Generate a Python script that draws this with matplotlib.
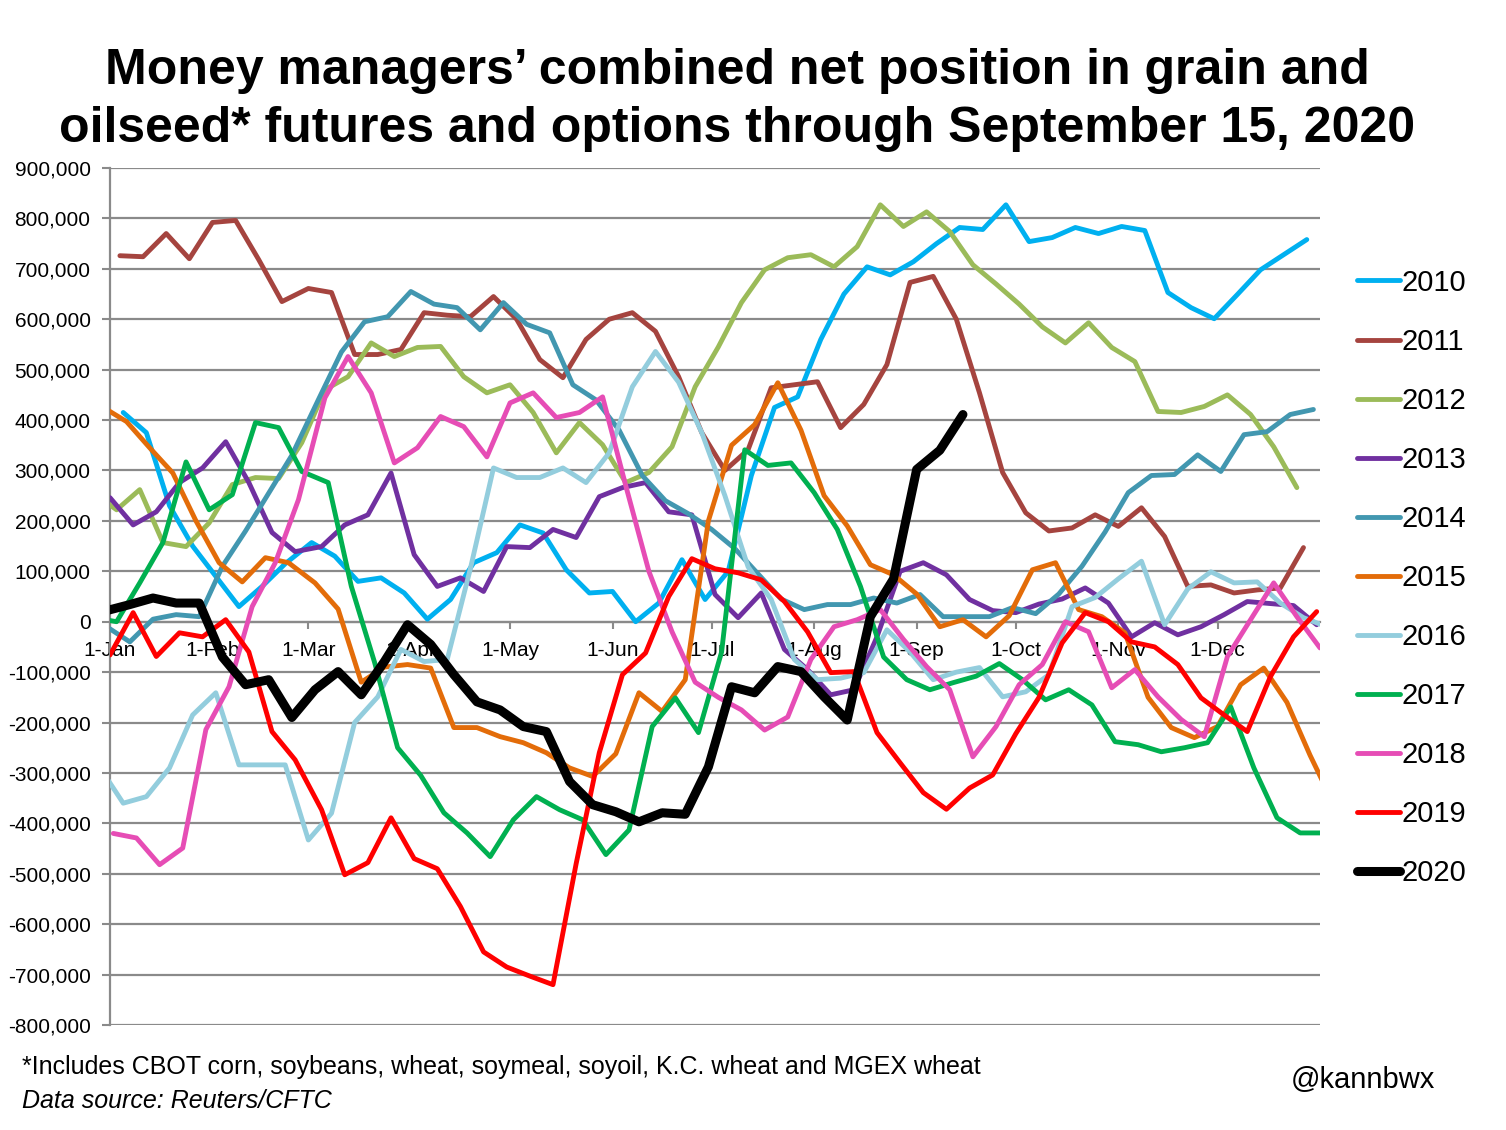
import matplotlib
matplotlib.use("Agg")
import matplotlib.pyplot as plt
from matplotlib.ticker import FuncFormatter
import pandas as pd

plt.rcParams['font.family'] = ['Liberation Sans', 'DejaVu Sans']

# ---- data (thousands of contracts), weekly Tuesday readings ----
years = [2010, 2011, 2012, 2013, 2014, 2015, 2016, 2017, 2018, 2019, 2020]
start_dates = ['2010-01-05', '2011-01-04', '2011-12-27', '2013-01-01', '2013-12-31',
               '2014-12-30', '2015-12-29', '2016-12-27', '2018-01-02', '2019-01-01',
               '2019-12-31']
colors = ['#00B0F0', '#A5443F', '#9BBB59', '#7030A0', '#4297B0', '#E36C09',
          '#93CDDD', '#00B050', '#E64DB5', '#FF0000', '#000000']

v2010 = [415, 375, 230, 150, 90, 30, 70, 115, 157, 130, 80, 87, 57, 5, 44, 117, 137, 192,
         176, 103, 57, 60, 0, 37, 123, 44, 100, 290, 425, 446, 560, 650, 704, 688, 714,
         750, 782, 778, 827, 754, 762, 782, 770, 784, 776, 653, 623, 601, 649, 698, 728, 758]
v2011 = [726, 724, 770, 720, 792, 796, 718, 635, 661, 653, 530, 530, 540, 613, 608, 605,
         645, 600, 520, 484, 560, 600, 613, 576, 486, 375, 300, 341, 464, 470, 476, 385,
         431, 510, 673, 685, 600, 454, 296, 216, 180, 186, 212, 189, 226, 169, 70, 73, 57,
         63, 67, 147]
v2012 = [255, 222, 262, 157, 149, 196, 272, 286, 284, 355, 460, 486, 553, 526, 544, 546,
         486, 454, 470, 415, 335, 395, 351, 276, 296, 347, 466, 545, 633, 698, 722, 728,
         704, 744, 827, 784, 813, 774, 708, 670, 630, 585, 553, 593, 544, 516, 417, 415,
         427, 450, 411, 347, 266]
v2013 = [246, 192, 218, 276, 305, 357, 276, 177, 139, 149, 192, 212, 295, 133, 70, 87, 60,
         149, 147, 183, 167, 248, 266, 276, 218, 212, 54, 8, 57, -55, -95, -145, -135, -30,
         100, 117, 93, 44, 22, 18, 35, 45, 67, 37, -30, -2, -26, -10, 14, 40, 36, 32, -6]
v2014 = [-10, -40, 5, 14, 10, 110, 180, 255, 330, 440, 535, 595, 605, 655, 630, 623, 579,
         633, 590, 573, 470, 440, 380, 290, 240, 214, 183, 145, 95, 45, 24, 34, 34, 47, 37,
         54, 10, 10, 10, 28, 16, 55, 110, 178, 256, 290, 292, 331, 298, 371, 377, 411, 421]
v2015 = [425, 397, 345, 295, 200, 117, 79, 127, 117, 77, 25, -120, -90, -85, -92, -210,
         -210, -228, -240, -260, -290, -307, -262, -141, -178, -115, 200, 350, 391, 474,
         380, 250, 190, 113, 93, 55, -10, 4, -30, 12, 103, 117, 24, 10, -22, -150, -210,
         -230, -208, -125, -92, -160, -265, -360]
v2016 = [-290, -360, -347, -290, -185, -141, -284, -284, -284, -433, -380, -200, -149, -55,
         -79, -75, 105, 305, 286, 286, 305, 276, 335, 466, 536, 475, 375, 250, 109, 44,
         -75, -115, -112, -101, -16, -60, -115, -100, -91, -149, -139, -105, 30, 48, 85,
         120, -6, 65, 99, 77, 79, 37, 8, -10]
v2017 = [8, 0, 77, 157, 317, 222, 252, 395, 385, 298, 276, 70, -80, -250, -305, -379, -419,
         -466, -393, -347, -373, -393, -462, -413, -208, -151, -220, -60, 341, 310, 315,
         256, 183, 70, -70, -115, -135, -121, -108, -83, -115, -155, -135, -165, -238,
         -244, -258, -250, -240, -169, -290, -389, -419, -419]
v2018 = [-420, -429, -482, -449, -214, -129, 30, 117, 242, 444, 526, 454, 315, 345, 407,
         387, 327, 434, 454, 405, 415, 446, 270, 100, -20, -120, -150, -175, -215, -189,
         -75, -10, 4, 24, -35, -89, -135, -268, -208, -125, -85, 0, -20, -131, -95, -149,
         -194, -228, -69, 4, 77, 10, -52]
v2019 = [-66, 18, -69, -22, -30, 4, -60, -218, -274, -373, -502, -478, -389, -470, -490,
         -565, -655, -685, -703, -720, -480, -260, -105, -62, 50, 125, 105, 97, 83, 40,
         -20, -101, -99, -220, -280, -339, -372, -330, -304, -222, -150, -42, 18, 0, -40,
         -50, -85, -151, -185, -218, -109, -30, 20]
v2020 = [22, 34, 47, 37, 37, -70, -125, -115, -190, -135, -99, -145, -79, -6, -45, -105,
         -159, -175, -208, -218, -317, -363, -377, -397, -379, -382, -288, -129, -141, -89,
         -99, -149, -195, 10, 85, 302, 340, 411]
series = [v2010, v2011, v2012, v2013, v2014, v2015, v2016, v2017, v2018, v2019, v2020]

yticks = list(range(-800000, 900001, 100000))
month_labels = ['1-Jan', '1-Feb', '1-Mar', '1-Apr', '1-May', '1-Jun', '1-Jul', '1-Aug',
                '1-Sep', '1-Oct', '1-Nov', '1-Dec']

title = "Money managers\u2019 combined net position in grain and\noilseed* futures and options through September 15, 2020"
note1 = "*Includes CBOT corn, soybeans, wheat, soymeal, soyoil, K.C. wheat and MGEX wheat"
note2 = "Data source: Reuters/CFTC"
handle = "@kannbwx"

W, H = 1506, 1130
fig = plt.figure(figsize=(W / 100, H / 100), dpi=100)
ax = fig.add_axes([110 / W, 1 - 1025 / H, (1320 - 110) / W, (1025 - 168) / H])

for yr, sd, vals, col in zip(years, start_dates, series, colors):
    dates = pd.date_range(sd, periods=len(vals), freq='7D')
    mapped = [d + pd.DateOffset(years=2020 - yr) for d in dates]
    lw = 6.5 if yr == 2020 else 3.5
    ax.plot(mapped, [v * 1000 for v in vals], color=col, lw=lw, label=str(yr),
            solid_joinstyle='round', solid_capstyle='round', clip_on=True,
            zorder=3 + (10 if yr == 2020 else 0))

ax.set_xlim(pd.Timestamp('2020-01-01'), pd.Timestamp('2021-01-01'))
ax.set_ylim(-800000, 900000)
ax.set_yticks(yticks)
ax.yaxis.set_major_formatter(FuncFormatter(lambda v, p: f"{v:,.0f}"))
ax.grid(axis='y', color='#8A8A8A', lw=1.6, zorder=1)
ax.set_axisbelow(True)

ax.set_xticks([pd.Timestamp(f'2020-{m:02d}-01') for m in range(1, 13)])
ax.set_xticklabels(month_labels)

for s in ['top', 'right']:
    ax.spines[s].set_visible(False)
ax.spines['bottom'].set_position(('data', 0))
ax.spines['bottom'].set_color('#8A8A8A')
ax.spines['bottom'].set_linewidth(1.6)
ax.spines['left'].set_color('#8A8A8A')
ax.spines['left'].set_linewidth(1.6)
ax.tick_params(axis='x', colors='#8A8A8A', length=5, width=1.5, labelcolor='black',
               labelsize=15, pad=9)
ax.tick_params(axis='y', colors='#8A8A8A', length=6, width=1.5, labelcolor='black',
               labelsize=15, pad=8)

fig.text(737 / W, 1 - 100 / H, title, ha='center', va='center', fontsize=36,
         fontweight='bold', linespacing=1.32)

leg = fig.legend(loc='upper left', bbox_to_anchor=(1345 / W, 1 - 257 / H), frameon=False,
                 fontsize=21, handlelength=1.47, handletextpad=0.08, labelspacing=1.065,
                 borderaxespad=0)

fig.text(22 / W, 1 - 1067 / H, note1, ha='left', va='center', fontsize=18)
fig.text(22 / W, 1 - 1101 / H, note2, ha='left', va='center', fontsize=18, style='italic')
fig.text(1435 / W, 1 - 1080 / H, handle, ha='right', va='center', fontsize=21)

fig.savefig('out.png', dpi=100)
